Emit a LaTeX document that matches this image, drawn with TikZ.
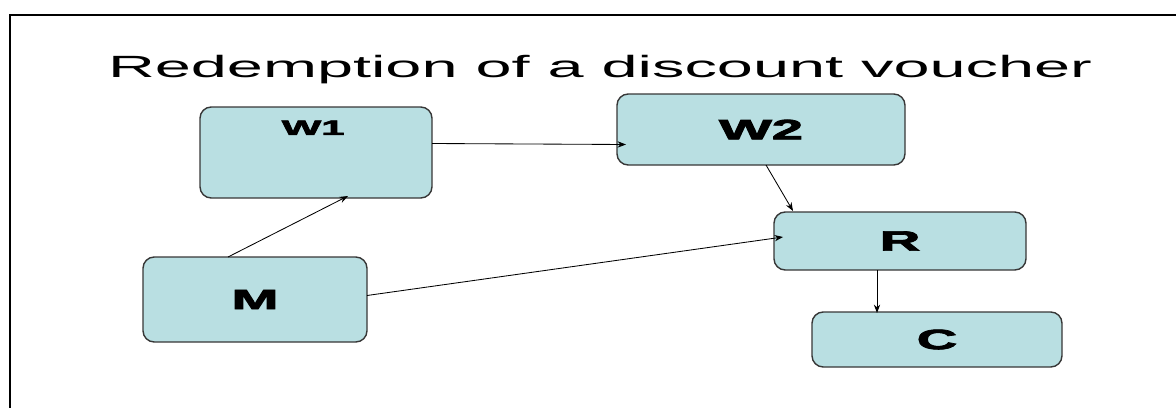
\documentclass[tikz,border=0pt]{standalone}
\usepackage{fontspec}
\setmainfont{Liberation Sans}
\newfontfamily\heavyfont{Liberation Sans}[BoldFeatures={FakeBold=2.5}]
\usetikzlibrary{arrows.meta,calc}
\definecolor{boxfill}{RGB}{185,223,226}
\definecolor{boxline}{RGB}{55,55,55}
\newcommand{\wide}[1]{\scalebox{2}[1]{#1}}
\tikzset{
  box/.style={draw=boxline, line width=1pt, fill=boxfill, rounded corners=8pt, inner sep=0pt, outer sep=0pt},
  tag/.style={font=\fontsize{19.9pt}{22pt}\selectfont\heavyfont\bfseries},
  link/.style={line width=0.6pt, -{Stealth[length=6pt,width=4.5pt]}}
}

\begin{document}
\begin{tikzpicture}[x=0.025cm,y=-0.025cm]
        \def\px{0.025cm}
        \useasboundingbox (0,0) rectangle (1176,408);

        % frame and title
        \draw[line width=1.6pt] (1176,15) -- (10,15) -- (10,408);
        \node[anchor=base, inner sep=0pt] (title) at (600,77) {\fontsize{21.85pt}{24pt}\selectfont\scalebox{2.11}[1]{Redemption of a discount voucher}};

        % boxes
        \node[box, minimum width=232*\px, minimum height=91*\px,
              label={[tag, font=\fontsize{14.9pt}{17pt}\selectfont\heavyfont\bfseries, anchor=base, inner sep=0pt, xshift=-2pt, yshift=-19.9pt]north:\wide{W1}}] (W1) at (316,152.5) {};
        \foreach \name/\cx/\cy/\w/\h in {W2/761/129.5/288/71, M/255/299.5/224/85, R/900/241/252/58, C/937/339.5/250/55} {
                \node[box, tag, minimum width=\w*\px, minimum height=\h*\px] (\name) at (\cx,\cy) {\wide{\name}};
            }

        % arrows
        \draw[link] ($(W1.east)+(0,-9)$) -- ($(W2.west)+(9,15)$);
        \draw[link] ($(M.north)+(-27,0)$) -- ($(W1.south)+(32,-2)$);
        \draw[link] ($(M.east)+(0,-4)$) -- ($(R.west)+(9,-4)$);
        \draw[link] ($(W2.south)+(5,0)$) -- ($(R.north)+(-107,-1)$);
        \draw[link] ($(R.south)+(-23,0)$) -- ($(C.north)+(-60,1)$);

    \end{tikzpicture}
\end{document}
